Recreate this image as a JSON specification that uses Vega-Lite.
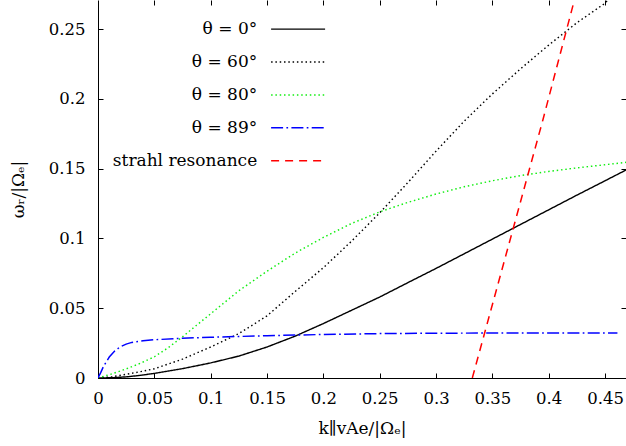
{
  "$schema": "https://vega.github.io/schema/vega-lite/v6.json",
  "width": 528,
  "height": 378,
  "autosize": {"type": "none"},
  "padding": {"left": 98, "top": 0, "right": 0, "bottom": 68},
  "background": "white",
  "config": {
    "view": {"stroke": null},
    "font": "DejaVu Serif",
    "axis": {
      "domainColor": "black", "tickColor": "black", "labelColor": "black", "titleColor": "black",
      "labelFont": "DejaVu Serif", "titleFont": "DejaVu Serif",
      "labelFontSize": 16.5, "titleFontSize": 17, "titleFontWeight": "normal",
      "grid": false, "tickSize": -5, "domainWidth": 1, "tickWidth": 1,
      "labelFlush": false, "labelOverlap": false, "labelBound": false
    }
  },
  "data": {"values": [
    {"s": "θ = 0°", "k": 0, "w": 0},
    {"s": "θ = 0°", "k": 0.0125, "w": 0.0002},
    {"s": "θ = 0°", "k": 0.025, "w": 0.0008},
    {"s": "θ = 0°", "k": 0.0375, "w": 0.0019},
    {"s": "θ = 0°", "k": 0.05, "w": 0.0033},
    {"s": "θ = 0°", "k": 0.075, "w": 0.0067},
    {"s": "θ = 0°", "k": 0.1, "w": 0.0108},
    {"s": "θ = 0°", "k": 0.125, "w": 0.0157},
    {"s": "θ = 0°", "k": 0.15, "w": 0.0222},
    {"s": "θ = 0°", "k": 0.175, "w": 0.0300},
    {"s": "θ = 0°", "k": 0.2, "w": 0.0390},
    {"s": "θ = 0°", "k": 0.225, "w": 0.0485},
    {"s": "θ = 0°", "k": 0.25, "w": 0.0580},
    {"s": "θ = 0°", "k": 0.275, "w": 0.0683},
    {"s": "θ = 0°", "k": 0.3, "w": 0.0785},
    {"s": "θ = 0°", "k": 0.325, "w": 0.0890},
    {"s": "θ = 0°", "k": 0.35, "w": 0.0995},
    {"s": "θ = 0°", "k": 0.375, "w": 0.1100},
    {"s": "θ = 0°", "k": 0.4, "w": 0.1205},
    {"s": "θ = 0°", "k": 0.425, "w": 0.1310},
    {"s": "θ = 0°", "k": 0.45, "w": 0.1413},
    {"s": "θ = 0°", "k": 0.4686, "w": 0.1490},
    {"s": "θ = 60°", "k": 0, "w": 0},
    {"s": "θ = 60°", "k": 0.0125, "w": 0.0009},
    {"s": "θ = 60°", "k": 0.025, "w": 0.0027},
    {"s": "θ = 60°", "k": 0.0375, "w": 0.0045},
    {"s": "θ = 60°", "k": 0.05, "w": 0.0066},
    {"s": "θ = 60°", "k": 0.075, "w": 0.0135},
    {"s": "θ = 60°", "k": 0.1, "w": 0.0222},
    {"s": "θ = 60°", "k": 0.125, "w": 0.0318},
    {"s": "θ = 60°", "k": 0.15, "w": 0.0445},
    {"s": "θ = 60°", "k": 0.175, "w": 0.0620},
    {"s": "θ = 60°", "k": 0.2, "w": 0.0790},
    {"s": "θ = 60°", "k": 0.225, "w": 0.0980},
    {"s": "θ = 60°", "k": 0.25, "w": 0.1183},
    {"s": "θ = 60°", "k": 0.275, "w": 0.1400},
    {"s": "θ = 60°", "k": 0.3, "w": 0.1625},
    {"s": "θ = 60°", "k": 0.325, "w": 0.1840},
    {"s": "θ = 60°", "k": 0.35, "w": 0.2035},
    {"s": "θ = 60°", "k": 0.375, "w": 0.2215},
    {"s": "θ = 60°", "k": 0.4, "w": 0.2385},
    {"s": "θ = 60°", "k": 0.425, "w": 0.2545},
    {"s": "θ = 60°", "k": 0.45, "w": 0.2685},
    {"s": "θ = 60°", "k": 0.4525, "w": 0.2708},
    {"s": "θ = 80°", "k": 0, "w": 0},
    {"s": "θ = 80°", "k": 0.0125, "w": 0.0030},
    {"s": "θ = 80°", "k": 0.025, "w": 0.0065},
    {"s": "θ = 80°", "k": 0.0375, "w": 0.0105},
    {"s": "θ = 80°", "k": 0.05, "w": 0.0152},
    {"s": "θ = 80°", "k": 0.0625, "w": 0.0218},
    {"s": "θ = 80°", "k": 0.075, "w": 0.0295},
    {"s": "θ = 80°", "k": 0.0875, "w": 0.0378},
    {"s": "θ = 80°", "k": 0.1, "w": 0.0460},
    {"s": "θ = 80°", "k": 0.125, "w": 0.0625},
    {"s": "θ = 80°", "k": 0.15, "w": 0.0765},
    {"s": "θ = 80°", "k": 0.175, "w": 0.0895},
    {"s": "θ = 80°", "k": 0.2, "w": 0.1007},
    {"s": "θ = 80°", "k": 0.225, "w": 0.1107},
    {"s": "θ = 80°", "k": 0.25, "w": 0.1190},
    {"s": "θ = 80°", "k": 0.275, "w": 0.1258},
    {"s": "θ = 80°", "k": 0.3, "w": 0.1318},
    {"s": "θ = 80°", "k": 0.325, "w": 0.1370},
    {"s": "θ = 80°", "k": 0.35, "w": 0.1413},
    {"s": "θ = 80°", "k": 0.375, "w": 0.1450},
    {"s": "θ = 80°", "k": 0.4, "w": 0.1480},
    {"s": "θ = 80°", "k": 0.425, "w": 0.1505},
    {"s": "θ = 80°", "k": 0.45, "w": 0.1528},
    {"s": "θ = 80°", "k": 0.4686, "w": 0.1545},
    {"s": "θ = 89°", "k": 0, "w": 0},
    {"s": "θ = 89°", "k": 0.0025, "w": 0.0040},
    {"s": "θ = 89°", "k": 0.005, "w": 0.0085},
    {"s": "θ = 89°", "k": 0.01, "w": 0.0150},
    {"s": "θ = 89°", "k": 0.015, "w": 0.0195},
    {"s": "θ = 89°", "k": 0.02, "w": 0.0225},
    {"s": "θ = 89°", "k": 0.025, "w": 0.0243},
    {"s": "θ = 89°", "k": 0.03, "w": 0.0255},
    {"s": "θ = 89°", "k": 0.04, "w": 0.0267},
    {"s": "θ = 89°", "k": 0.05, "w": 0.0274},
    {"s": "θ = 89°", "k": 0.075, "w": 0.0285},
    {"s": "θ = 89°", "k": 0.1, "w": 0.0292},
    {"s": "θ = 89°", "k": 0.15, "w": 0.0303},
    {"s": "θ = 89°", "k": 0.2, "w": 0.0312},
    {"s": "θ = 89°", "k": 0.25, "w": 0.0318},
    {"s": "θ = 89°", "k": 0.3, "w": 0.0321},
    {"s": "θ = 89°", "k": 0.35, "w": 0.0322},
    {"s": "θ = 89°", "k": 0.4, "w": 0.0322},
    {"s": "θ = 89°", "k": 0.461, "w": 0.0322},
    {"s": "strahl resonance", "k": 0.3322, "w": 0},
    {"s": "strahl resonance", "k": 0.3947, "w": 0.1845},
    {"s": "strahl resonance", "k": 0.4228, "w": 0.2708}
  ]},
  "layer": [
    {
      "mark": {"type": "line", "clip": true, "strokeCap": "butt"},
      "encoding": {
        "x": {"field": "k", "type": "quantitative",
          "scale": {"domain": [0, 0.4686], "nice": false, "zero": false},
          "axis": {"orient": "bottom", "values": [0, 0.05, 0.1, 0.15, 0.2, 0.25, 0.3, 0.35, 0.4, 0.45], "format": "~g",
            "labelPadding": 17, "title": "k∥vAe/|Ωₑ|", "titleX": 264, "titleY": 50, "titleBaseline": "middle", "titleAlign": "center"}},
        "y": {"field": "w", "type": "quantitative",
          "scale": {"domain": [0, 0.2708], "nice": false, "zero": false},
          "axis": {"orient": "left", "values": [0, 0.05, 0.1, 0.15, 0.2, 0.25], "format": "~g",
            "labelPadding": 18, "title": "ωᵣ/|Ωₑ|", "titleX": -80, "titleY": 189, "titleAngle": -90, "titleBaseline": "middle", "titleAlign": "center"}},
        "color": {"field": "s", "type": "nominal",
          "scale": {"domain": ["θ = 0°", "θ = 60°", "θ = 80°", "θ = 89°", "strahl resonance"],
            "range": ["#000000", "#000000", "#11ee11", "#0000ff", "#ff0000"]},
          "legend": {"title": null, "orient": "none", "legendX": 191.6, "legendY": 20.6,
            "symbolType": "M -5 0 L 5 0", "symbolSize": 116.6, "labelAlign": "right", "labelOffset": -49.4,
            "labelFontSize": 17, "labelFont": "DejaVu Serif", "labelColor": "black",
            "rowPadding": 14.9, "padding": 0, "labelLimit": 0}},
        "strokeDash": {"field": "s", "type": "nominal",
          "scale": {"domain": ["θ = 0°", "θ = 60°", "θ = 80°", "θ = 89°", "strahl resonance"],
            "range": [[1, 0], [1.5, 2.8], [1.5, 2.8], [12, 3.3, 1.7, 3.3], [8, 6]]}},
        "strokeWidth": {"field": "s", "type": "nominal",
          "scale": {"domain": ["θ = 0°", "θ = 60°", "θ = 80°", "θ = 89°", "strahl resonance"],
            "range": [1.4, 1.5, 1.5, 1.5, 2.5]}}
      }
    },
    {
      "mark": {"type": "point", "opacity": 0},
      "encoding": {
        "x": {"field": "k", "type": "quantitative",
          "scale": {"domain": [0, 0.4686], "nice": false, "zero": false},
          "axis": {"orient": "top", "values": [0.05, 0.1, 0.15, 0.2, 0.25, 0.3, 0.35, 0.4, 0.45], "labels": false, "domain": false, "title": null}},
        "y": {"field": "w", "type": "quantitative",
          "scale": {"domain": [0, 0.2708], "nice": false, "zero": false},
          "axis": {"orient": "right", "values": [0.05, 0.1, 0.15, 0.2, 0.25], "labels": false, "domain": false, "title": null}}
      }
    }
  ],
  "resolve": {"axis": {"x": "independent", "y": "independent"}}
}
